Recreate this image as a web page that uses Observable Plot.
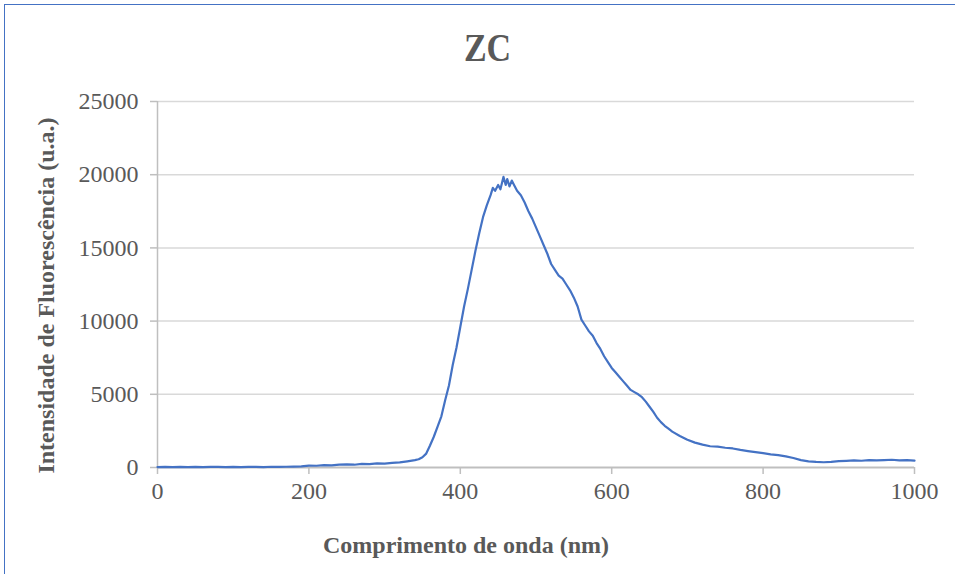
<!DOCTYPE html>
<html>
<head>
<meta charset="utf-8">
<script src="https://cdn.jsdelivr.net/npm/d3@7"></script>
<script src="https://cdn.jsdelivr.net/npm/@observablehq/plot@0.6"></script>
<style>
  body { margin: 0; background: #fff; }
  #wrap { position: relative; width: 955px; height: 574px; overflow: hidden; }
  #frame { position: absolute; left: 4px; top: 4px; width: 960px; height: 580px; border: 1px solid #4472C4; box-sizing: border-box; pointer-events: none; }
  #title { position: absolute; left: 0; width: 975px; top: 28px; text-align: center; font-weight: bold; font-size: 34px; line-height: 40px; font-family: "Liberation Serif", "Times New Roman", "DejaVu Serif", serif; color: #595959; transform: scaleY(1.18); transform-origin: 50% 50%; }
  #chart { position: absolute; left: 0; top: 0; }
  #chart svg, #chart svg text { font-family: "Liberation Serif", "Times New Roman", "DejaVu Serif", serif !important; }
</style>
</head>
<body>
<div id="wrap">
  <div id="chart"></div>
  <div id="title">ZC</div>
  <div id="frame"></div>
</div>
<script>
const title = "ZC";
const xLabel = "Comprimento de onda (nm)";
const yLabel = "Intensidade de Fluorescência (u.a.)";
const xTicks = [0, 200, 400, 600, 800, 1000];
const yTicks = [0, 5000, 10000, 15000, 20000, 25000];

const wavelength = [0,10,20,30,40,50,60,70,80,90,100,110,120,130,140,150,160,170,180,190,200,210,220,230,240,250,260,270,280,290,300,310,320,330,340,345,350,355,360,365,370,375,380,385,390,395,400,405,410,415,420,425,430,435,440,443,446,450,453,457,460,462,465,468,471,475,480,485,490,495,500,505,510,515,520,525,530,535,540,545,550,555,560,565,570,575,580,585,590,595,600,605,610,615,620,625,630,635,640,645,650,655,660,665,670,675,680,690,700,710,720,730,740,750,760,770,780,790,800,810,820,830,840,850,860,870,880,890,900,910,920,930,940,950,960,970,980,990,1000];
const intensity = [30,40,30,40,30,40,30,40,40,30,40,30,40,40,30,50,40,50,60,80,130,120,160,150,200,220,190,250,230,280,270,310,350,420,500,560,700,950,1500,2100,2800,3500,4600,5600,7000,8200,9600,11000,12200,13500,14800,16000,17100,17900,18600,19100,18900,19300,19000,19850,19300,19700,19200,19600,19300,18900,18600,18100,17500,17000,16400,15800,15200,14600,13900,13500,13100,12900,12500,12100,11600,11000,10100,9700,9300,9000,8500,8100,7600,7200,6800,6500,6200,5900,5600,5300,5150,5000,4800,4500,4150,3800,3400,3100,2850,2650,2450,2150,1900,1700,1560,1450,1420,1350,1300,1200,1120,1050,980,900,850,760,650,500,420,380,360,380,430,450,480,460,500,480,510,530,490,500,470];

const data = wavelength.map((w, i) => ({w, v: intensity[i]}));
const serif = "'Liberation Serif', 'Times New Roman', 'DejaVu Serif', serif";

const plot = Plot.plot({
  width: 955,
  height: 574,
  marginLeft: 157,
  marginRight: 41,
  marginTop: 101,
  marginBottom: 107,
  style: { fontFamily: serif, fontSize: "24px", color: "#595959", background: "transparent" },
  x: { domain: [0, 1000], ticks: xTicks, label: null },
  y: { domain: [0, 25000], ticks: yTicks, label: null },
  marks: [
    Plot.ruleY(yTicks.filter(d => d > 0), { stroke: "#d9d9d9", strokeWidth: 1.5 }),
    Plot.ruleX([0], { stroke: "#bfbfbf", strokeWidth: 1.5 }),
    Plot.ruleY([0], { stroke: "#bfbfbf", strokeWidth: 2 }),
    Plot.axisX({ ticks: xTicks, tickSize: 7, tickPadding: 7, stroke: "#bfbfbf", strokeWidth: 1.5, fill: "#595959", tickFormat: d => String(d), label: null, fontSize: 24 }),
    Plot.axisY({ ticks: yTicks, tickSize: 7, tickPadding: 12, stroke: "#bfbfbf", strokeWidth: 1.5, fill: "#595959", tickFormat: d => String(d), label: null, fontSize: 24 }),
    Plot.text([xLabel], { text: d => d, frameAnchor: "bottom", textAnchor: "middle", lineAnchor: "middle", dx: -70, dy: 78, fontSize: 24, fontWeight: "bold", fill: "#595959" }),
    Plot.text([yLabel], { text: d => d, frameAnchor: "left", textAnchor: "middle", lineAnchor: "middle", rotate: -90, dx: -111, dy: 11, fontSize: 24, fontWeight: "bold", fill: "#595959" }),
    Plot.line(data, { x: "w", y: "v", stroke: "#4472C4", strokeWidth: 2.2, curve: "linear" })
  ]
});
document.getElementById("chart").appendChild(plot);
document.getElementById("title").textContent = title;
</script>
</body>
</html>
